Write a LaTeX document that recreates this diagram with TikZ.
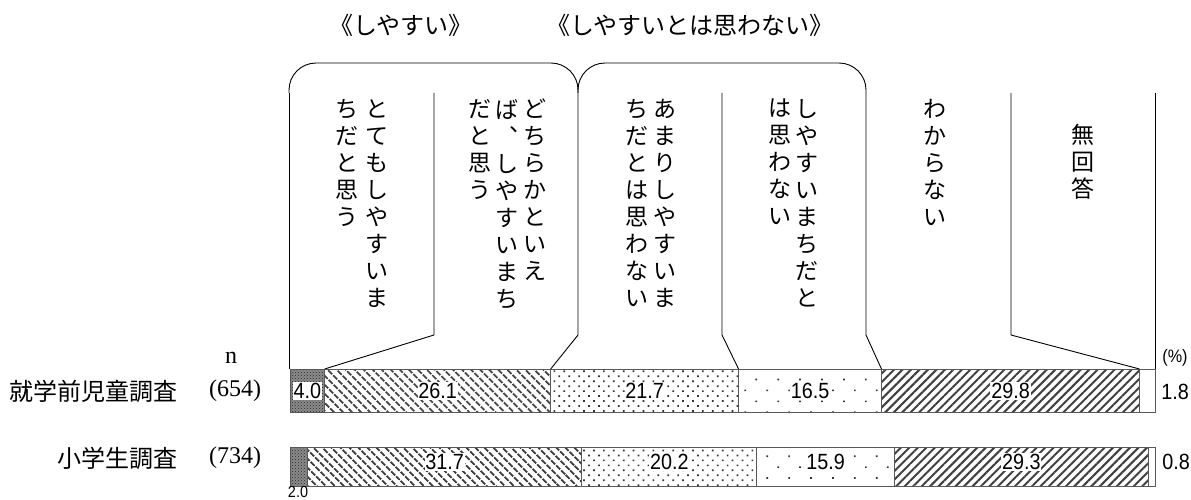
\documentclass[tikz,border=0pt]{standalone}
\usepackage{fontspec}
\setmainfont{Liberation Serif}
\newfontfamily\jpfont{Noto Sans CJK JP}
\newfontfamily\numfont[FakeStretch=0.9]{Liberation Sans}
\usetikzlibrary{patterns,patterns.meta}

\begin{document}
\begin{tikzpicture}[
  x=1pt, y=-1pt,
  seg/.style={draw=black!65, line width=0.9pt},
  segA/.style={seg, preaction={fill=black!45}, pattern=crosshatch dots, pattern color=black!85},
  segB/.style={seg, pattern={Lines[angle=-45,distance=6.5pt,line width=2.2pt]}, pattern color=black!75},
  segC/.style={seg, pattern={Dots[angle=45,distance=7pt,radius=1.2pt]}, pattern color=black!80},
  segD/.style={seg, pattern={Dots[angle=45,distance=15.5pt,radius=1.2pt]}, pattern color=black!80},
  segE/.style={seg, pattern={Lines[angle=45,distance=6pt,line width=2pt]}, pattern color=black!75},
  segF/.style={seg, fill=white},
  callout/.style={draw=black, line width=0.9pt},
  bracket/.style={callout, rounded corners=27pt},
  vtext/.style={anchor=north, align=center, inner sep=0pt, font=\jpfont\fontsize{23}{27}\selectfont},
  grouplabel/.style={inner sep=0pt, font=\jpfont\fontsize{24}{28}\selectfont},
  rowlabel/.style={anchor=east, inner sep=0pt, font=\jpfont\fontsize{24}{28}\selectfont},
  nlabel/.style={inner sep=0pt, font=\fontsize{24}{26}\selectfont},
  val/.style={fill=white, inner sep=0.8pt, font=\numfont\fontsize{22}{24}\selectfont},
  outval/.style={inner sep=0pt, font=\numfont\fontsize{22}{24}\selectfont}
]
\useasboundingbox (0,0) rectangle (1191,500);

% bars
\foreach \l/\r/\st in {0/4.0/segA,4.0/30.1/segB,30.1/51.8/segC,51.8/68.3/segD,68.3/98.1/segE,98.1/99.9/segF}
  \path[\st] ({290+8.66*\l},369) rectangle ({290+8.66*\r},412);
\foreach \l/\r/\st in {0/2.0/segA,2.0/33.7/segB,33.7/53.9/segC,53.9/69.8/segD,69.8/99.1/segE,99.1/99.9/segF}
  \path[\st] ({290+8.66*\l},447) rectangle ({290+8.66*\r},486);

% values
\foreach \l/\r/\v [count=\i] in {0/4.0/4.0,4.0/30.1/26.1,30.1/51.8/21.7,51.8/68.3/16.5,68.3/98.1/29.8}
  \node[val] (a\i) at ({290+8.66*(\l+\r)/2},391) {\v};
\node[outval] (a6) at (1175,392) {1.8};
\node[outval, font=\numfont\fontsize{16}{18}\selectfont] (b1) at (298,492) {2.0};
\foreach \l/\r/\v [count=\i from 2] in {2.0/33.7/31.7,33.7/53.9/20.2,53.9/69.8/15.9,69.8/99.1/29.3}
  \node[val] (b\i) at ({290+8.66*(\l+\r)/2},462) {\v};
\node[outval] (b6) at (1176,462) {0.8};

% row labels
\node[nlabel] (n) at (231,358) {n};
\node[rowlabel] (r1) at (178,391) {就学前児童調査};
\node[nlabel] (n1) at (235,391) {(654)};
\node[rowlabel] (r2) at (178,458) {小学生調査};
\node[nlabel] (n2) at (235,458) {(734)};
\node[inner sep=0pt, font=\numfont\fontsize{18}{20}\selectfont] (pct) at (1175,358) {(\%)};

% callouts
\foreach \c [count=\i from 0] in {0,4.0,30.1,51.8,68.3,98.1,99.9}
  \coordinate (e\i) at ({290+8.66*\c},369);
\foreach \x [count=\i from 0] in {289,434,578,722,866,1011,1155}
  \coordinate (t\i) at (\x,93);
\foreach \x [count=\i] in {434,578,722,866,1011}
  \coordinate (k\i) at (\x,335);
\coordinate (top) at (0,63);

\draw[callout] (t0) -- (t0 |- e0);
\foreach \i in {1,...,5}
  \draw[callout] (t\i) -- (k\i) -- (e\i);
\draw[callout] (t6) -- (t6 |- e6);

\draw[bracket] (t0) -- (t0 |- top) -- (t2 |- top) -- (t2);
\draw[bracket] (t2) -- (t2 |- top) -- (t4 |- top) -- (t4);

\node[grouplabel] (g1) at (401,25) {《しやすい》};
\node[grouplabel] (g2) at (690,25) {《しやすいとは思わない》};

% answer texts, columns right to left
\node[vtext] (c1) at (377,99) {と\\て\\も\\し\\や\\す\\い\\ま};
\node[vtext] (c2) at (347,99) {ち\\だ\\と\\思\\う};
\node[vtext] (c3) at (535,99) {ど\\ち\\ら\\か\\と\\い\\え};
\node[vtext] (c4) at (507,99) {ば\\︑\\し\\や\\す\\い\\ま\\ち};
\node[vtext] (c5) at (480,99) {だ\\と\\思\\う};
\node[vtext] (c6) at (665,99) {あ\\ま\\り\\し\\や\\す\\い\\ま};
\node[vtext] (c7) at (637,99) {ち\\だ\\と\\は\\思\\わ\\な\\い};
\node[vtext] (c8) at (807,99) {し\\や\\す\\い\\ま\\ち\\だ\\と};
\node[vtext] (c9) at (780,99) {は\\思\\わ\\な\\い};
\node[vtext] (c10) at (935,99) {わ\\か\\ら\\な\\い};
\node[vtext] (c11) at (1083,124) {無\\回\\答};

\end{tikzpicture}
\end{document}
